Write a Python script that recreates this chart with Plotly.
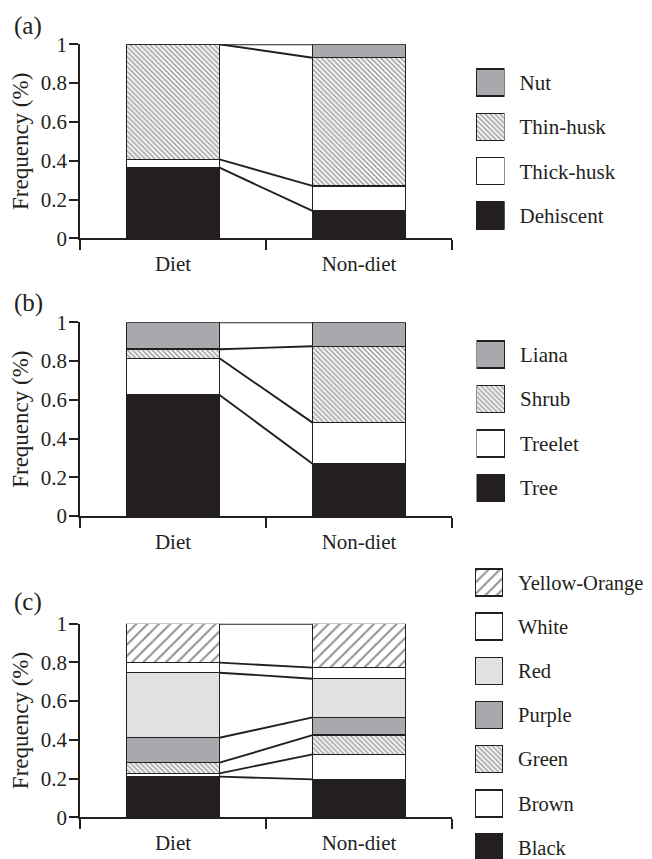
import plotly.graph_objects as go
import numpy as np

# ---------------- data ----------------
categories = ["Diet", "Non-diet"]
y_ticks = [0, 0.2, 0.4, 0.6, 0.8, 1]
y_tick_labels = ["0", "0.2", "0.4", "0.6", "0.8", "1"]

# (a) fruit type
dehiscent = [0.364, 0.141]
thick_husk = [0.043, 0.129]
thin_husk = [0.593, 0.661]
nut = [0.0, 0.069]

# (b) growth form
tree = [0.625, 0.270]
treelet = [0.189, 0.212]
shrub = [0.047, 0.394]
liana = [0.139, 0.124]

# (c) fruit colour
black = [0.210, 0.196]
brown = [0.017, 0.129]
green = [0.055, 0.099]
purple = [0.129, 0.092]
red = [0.336, 0.200]
white = [0.052, 0.057]
yellow_orange = [0.201, 0.227]

# ---------------- styles ----------------
INK = "#231f20"
FONT = "Liberation Serif"
OFF = 8                      # page body margin offset
W, H = 652 - OFF, 859 - OFF

styles = {
    "solid_black": dict(color=INK),
    "white": dict(color="white"),
    "gray": dict(color="#a7a9ac"),
    "light": dict(color="#e0e1e3"),
    "back": dict(color="white", pattern=dict(shape="\\", size=3.5, solidity=0.5,
                                             fgcolor="#4d4d4f", bgcolor="white")),
    "fwd": dict(color="white", pattern=dict(shape="/", size=8, solidity=0.25,
                                            fgcolor=INK, bgcolor="white")),
}

panels = [
    dict(label="(a)",
         series=[("Dehiscent", dehiscent, "solid_black"),
                 ("Thick-husk", thick_husk, "white"),
                 ("Thin-husk", thin_husk, "back"),
                 ("Nut", nut, "gray")],
         plot_px=(44.3, 238.3), leg_px=(82.5, 215.5), leg_x=(476, 504.5),
         label_y=26),
    dict(label="(b)",
         series=[("Tree", tree, "solid_black"),
                 ("Treelet", treelet, "white"),
                 ("Shrub", shrub, "back"),
                 ("Liana", liana, "gray")],
         plot_px=(322.3, 516.0), leg_px=(354.3, 488.0), leg_x=(476.5, 505),
         label_y=303),
    dict(label="(c)",
         series=[("Black", black, "solid_black"),
                 ("Brown", brown, "white"),
                 ("Green", green, "back"),
                 ("Purple", purple, "gray"),
                 ("Red", red, "light"),
                 ("White", white, "white"),
                 ("Yellow-Orange", yellow_orange, "fwd")],
         plot_px=(623.7, 817.3), leg_px=(582.5, 847.5), leg_x=(475, 503),
         label_y=602),
]

def px_x(px):
    return (px - OFF) / W

def px_y(px):
    return 1 - (px - OFF) / H

fig = go.Figure()
layout = dict(
    width=W, height=H, margin=dict(l=0, r=0, t=0, b=0),
    plot_bgcolor="white", paper_bgcolor="white", showlegend=False,
    barmode="stack", font=dict(family=FONT, color=INK, size=21),
    annotations=[],
)

x_dom = [px_x(80), px_x(452)]
xcat = np.arange(len(categories))

for i, p in enumerate(panels):
    n = i + 1
    xa = "x" if n == 1 else f"x{n}"
    ya = "y" if n == 1 else f"y{n}"
    ln = i + 4
    lxa, lya = f"x{ln}", f"y{ln}"

    # stacked bars
    for name, vals, st in p["series"]:
        fig.add_trace(go.Bar(
            x=xcat, y=vals, width=0.5, name=name,
            marker=dict(**styles[st], line=dict(color=INK, width=1.5)),
            xaxis=xa, yaxis=ya, hoverinfo="skip"))

    # connecting lines between stacked boundaries
    cum = np.cumsum(np.array([s[1] for s in p["series"]]), axis=0)
    for row in cum:
        fig.add_trace(go.Scatter(
            x=[xcat[0] + 0.25, xcat[1] - 0.25], y=[row[0], row[1]],
            mode="lines", line=dict(color=INK, width=1.9),
            xaxis=xa, yaxis=ya, hoverinfo="skip"))

    # legend drawn as a small bar axis
    nitems = len(p["series"])
    top_c, bot_c = p["leg_px"]
    step = (bot_c - top_c) / (nitems - 1)
    top_px = top_c - step / 2
    bot_px = bot_c + step / 2
    r0 = -0.5
    if bot_px > 859:
        r0 = -0.5 + (bot_px - 859) / step
        bot_px = 859
    for k, (name, vals, st) in enumerate(p["series"]):
        fig.add_trace(go.Bar(
            x=[1], y=[k], base=0, orientation="h", width=27 / step,
            marker=dict(**styles[st], line=dict(color=INK, width=1.5)),
            xaxis=lxa, yaxis=lya, hoverinfo="skip"))

    pdom = [px_y(p["plot_px"][1]), px_y(p["plot_px"][0])]
    layout[("xaxis" if n == 1 else f"xaxis{n}")] = dict(
        domain=x_dom, anchor=ya, range=[-0.5, 1.5],
        tickmode="array", tickvals=list(xcat), ticktext=categories, ticks="",
        showline=True, linecolor=INK, linewidth=1.5, showgrid=False,
        zeroline=False, ticklabelstandoff=6, automargin=False,
        minor=dict(tickmode="array", tickvals=[-0.5, 0.5, 1.5], ticks="outside",
                   ticklen=10, tickwidth=1.5, tickcolor=INK, showgrid=False),
        tickfont=dict(size=21, family=FONT, color=INK),
    )
    layout[("yaxis" if n == 1 else f"yaxis{n}")] = dict(
        domain=pdom, anchor=xa, range=[0, 1],
        tickmode="array", tickvals=y_ticks, ticktext=y_tick_labels,
        ticks="outside", ticklen=9, tickwidth=1.5, tickcolor=INK,
        showline=True, linecolor=INK, linewidth=1.5, showgrid=False,
        zeroline=False, automargin=False, ticklabelstandoff=-2,
        tickfont=dict(size=21, family=FONT, color=INK),
        title=dict(text="Frequency (%)", standoff=10,
                   font=dict(size=23, family=FONT, color=INK)),
    )
    layout[f"xaxis{ln}"] = dict(domain=[px_x(p["leg_x"][0]), px_x(p["leg_x"][1])],
                                anchor=lya, range=[0, 1],
                                visible=False, fixedrange=True)
    layout[f"yaxis{ln}"] = dict(
        domain=[px_y(bot_px), px_y(top_px)], anchor=lxa, range=[r0, nitems - 0.5],
        side="right", tickmode="array", tickvals=list(range(nitems)),
        ticktext=[s[0] for s in p["series"]], ticks="", showline=False,
        showgrid=False, zeroline=False, ticklabelstandoff=14, automargin=False,
        ticklabeloverflow="allow",
        tickfont=dict(size=20.5 if n == 3 else 21, family=FONT, color=INK))

    layout["annotations"].append(dict(
        text=p["label"], xref="paper", yref="paper", x=px_x(12), y=px_y(p["label_y"]),
        xanchor="left", yanchor="middle", showarrow=False,
        font=dict(size=25, family=FONT, color=INK)))

fig.update_layout(**layout)
fig.write_html("out.html",
               post_script="document.body.style.overflow='hidden';")
